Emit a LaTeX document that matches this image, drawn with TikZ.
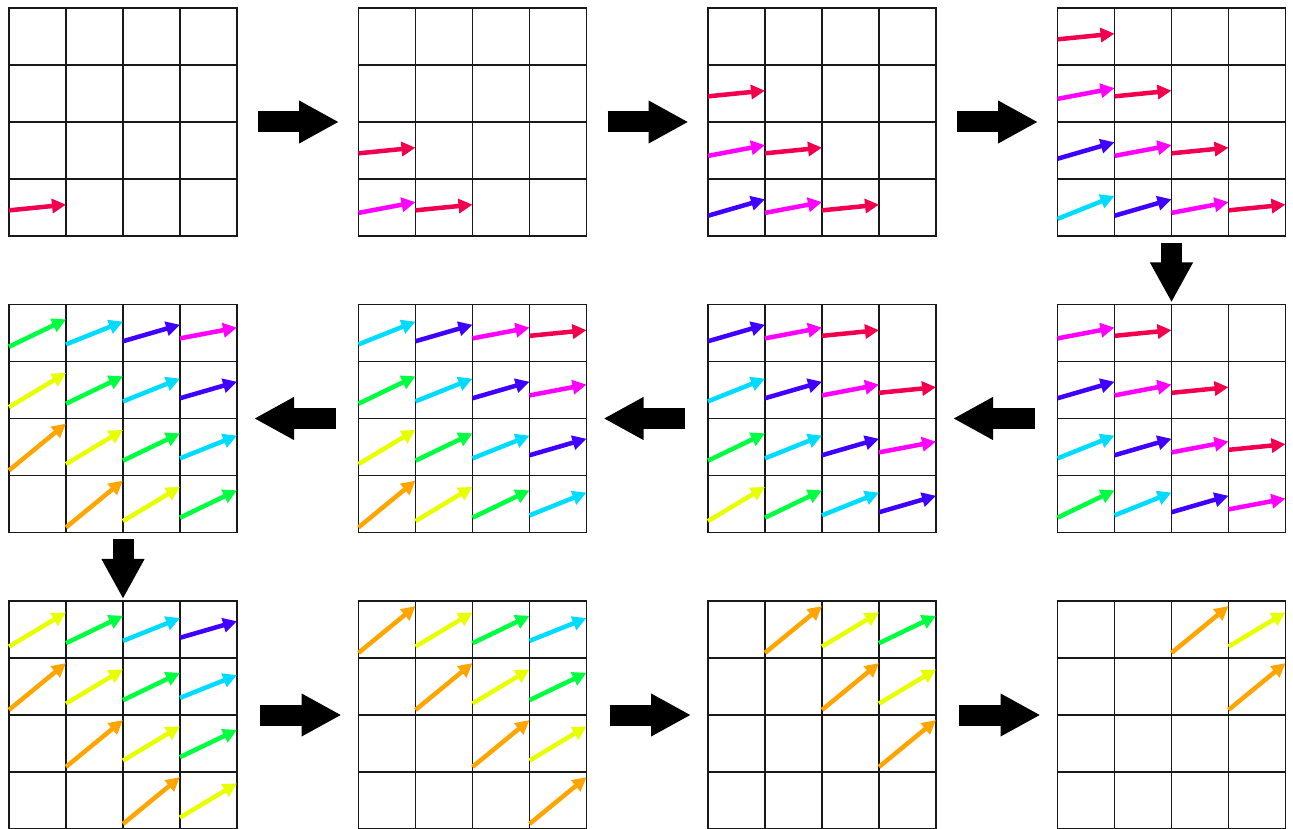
\documentclass[tikz,border=0pt]{standalone}
\usepackage{xcolor}
\usepackage{tikz}
\usetikzlibrary{arrows.meta, positioning}
\definecolor{w0}{RGB}{242,0,80}
\definecolor{w1}{RGB}{255,0,255}
\definecolor{w2}{RGB}{64,0,255}
\definecolor{w3}{RGB}{0,220,255}
\definecolor{w4}{RGB}{0,255,64}
\definecolor{w5}{RGB}{232,255,0}
\definecolor{w6}{RGB}{255,165,0}

\begin{document}
\begin{tikzpicture}[x=1pt, y=1pt, node distance=121.5pt,
        gridbox/.style={minimum size=228pt, inner sep=0pt, outer sep=0pt},
        cell/.style={draw=black!90, line width=1.1pt, minimum size=57pt,
                     inner sep=0pt, outer sep=0pt},
        wave/.style={line width=4.5pt, -{Triangle[length=14pt, width=14pt]}},
        flow/.style={line width=21pt, -{Triangle[length=40pt, width=40pt]}}]
      \useasboundingbox (0,0) rectangle (1293,828);
      % the twelve time steps, in snake order
      \node[gridbox] (g1) at (123,706) {};
      \node[gridbox, right=of g1] (g2) {};
      \node[gridbox, right=of g2] (g3) {};
      \node[gridbox, right=of g3] (g4) {};
      \node[gridbox, below=68.5pt of g4] (g5) {};
      \node[gridbox, left=of g5] (g6) {};
      \node[gridbox, left=of g6] (g7) {};
      \node[gridbox, left=of g7] (g8) {};
      \node[gridbox, below=68.5pt of g8] (g9) {};
      \node[gridbox, right=of g9] (g10) {};
      \node[gridbox, right=of g10] (g11) {};
      \node[gridbox, right=of g11] (g12) {};
      % cells
      \foreach \t in {1,...,12}
        \foreach \r in {1,...,4}
          \foreach \c in {1,...,4}
            \node[cell] (c\t-\r-\c)
              at ([xshift=\c*57pt-28.5pt, yshift=28.5pt-\r*57pt]g\t.north west) {};
      % wavefront arrows
      \foreach \t in {1,...,12}
        \foreach \r in {1,...,4}
          \foreach \c in {1,...,4} {
            \pgfmathtruncatemacro\k{\t-(4-\r)-\c}
            \ifnum\k>-1 \ifnum\k<7
              \pgfmathsetmacro\h{{2.85,5.4,8.25,11.4,13.7,17.1,23.4}[\k]}
              \draw[wave, draw=w\k] ([yshift=-\h pt]c\t-\r-\c.west)
                -- ([yshift=\h pt]c\t-\r-\c.east);
            \fi\fi
          }
      % steps
      \foreach \a/\b in {g1/g2, g2/g3, g3/g4}
        \draw[flow, shorten <=21pt, shorten >=19.5pt] (\a) -- (\b);
      \foreach \a/\b in {g5/g6, g6/g7, g7/g8, g9/g10, g10/g11, g11/g12}
        \draw[flow, shorten <=23pt, shorten >=17pt] (\a) -- (\b);
      \draw[flow, shorten <=7pt, shorten >=2pt] (g4) -- (g5);
      \draw[flow, shorten <=7pt, shorten >=2pt] (g8) -- (g9);
    \end{tikzpicture}
\end{document}
